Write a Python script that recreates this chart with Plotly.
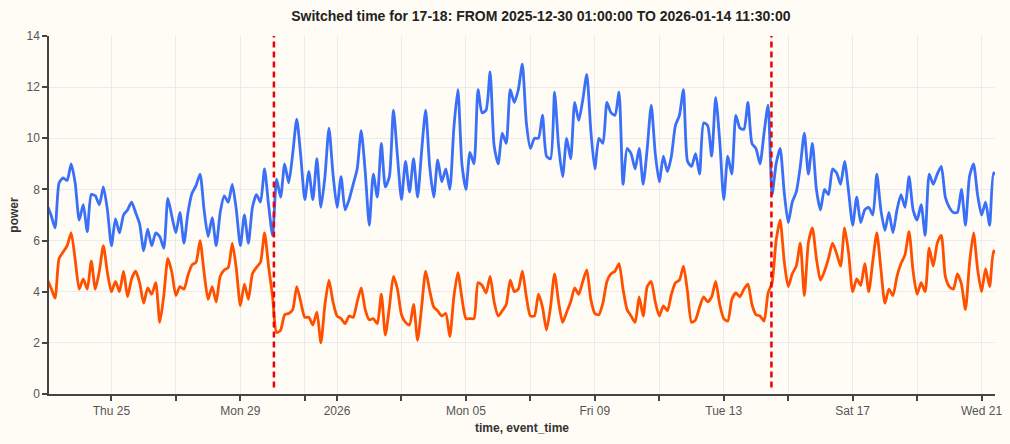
import pandas as pd
import plotly.graph_objects as go

# ---- data (3-hourly readings starting 2025-12-23 00:00) ----
start_time = "2025-12-23 00:00"
step = "3h"

series_blue = [
    7.4, 7.0, 6.5, 8.25, 8.45, 8.35, 9.0, 8.25, 6.8, 7.4, 6.35, 7.8, 7.75, 7.4, 8.1, 7.2,
    5.8, 6.85, 6.3, 7.0, 7.2, 7.5, 7.1, 6.65, 5.6, 6.45, 5.8, 6.3, 6.15, 5.7, 7.65, 6.95,
    6.3, 7.1, 5.9, 7.1, 7.85, 8.15, 8.6, 7.2, 6.15, 6.9, 5.8, 7.1, 7.75, 7.5, 8.2, 7.2,
    5.8, 7.0, 5.9, 7.3, 7.8, 7.5, 8.8, 7.4, 6.2, 8.4, 7.7, 9.0, 8.26, 9.4, 10.75, 9.3,
    7.6, 8.7, 7.6, 9.2, 7.3, 8.5, 10.4, 8.6, 7.3, 8.5, 7.2, 7.6, 8.2, 8.8, 10.3, 8.7,
    6.6, 8.6, 7.7, 9.8, 8.1, 8.5, 11.1, 9.3, 7.6, 9.1, 7.9, 9.2, 7.7, 9.5, 11.1, 8.9,
    7.7, 9.15, 8.3, 8.8, 8.0, 10.4, 11.9, 9.0, 8.0, 9.45, 9.0, 11.9, 11.0, 11.1, 12.6, 9.7,
    9.0, 10.2, 9.8, 11.9, 11.4, 11.9, 12.9, 10.6, 9.6, 10.0, 10.0, 10.9, 9.3, 9.2, 11.8, 9.7,
    8.5, 10.0, 9.2, 11.4, 10.7, 11.5, 12.5, 10.3, 8.8, 10.0, 9.8, 11.4, 11.0, 10.9, 11.8, 8.2,
    9.6, 9.4, 8.8, 9.6, 8.2, 9.6, 11.3, 9.4, 8.3, 9.3, 8.7, 9.3, 10.5, 10.9, 11.9, 9.1,
    8.9, 9.4, 8.6, 10.6, 10.5, 9.3, 11.6, 9.9, 7.6, 9.3, 8.6, 10.9, 10.4, 10.35, 11.4, 9.8,
    9.6, 9.0, 10.2, 11.3, 7.8, 9.0, 9.6, 7.9, 6.7, 7.5, 7.9, 8.9, 10.2, 8.6, 9.8, 8.0,
    7.2, 8.0, 7.8, 8.8, 8.65, 8.2, 9.1, 7.9, 6.6, 7.7, 6.7, 7.2, 7.3, 7.0, 8.6, 7.2,
    6.4, 7.1, 6.3, 7.2, 7.8, 7.3, 8.5, 7.2, 6.8, 7.4, 6.2, 8.6, 8.2, 8.6, 8.9, 7.7,
    7.3, 7.1, 7.1, 8.0, 6.6, 8.5, 9.0, 7.8, 7.0, 7.5, 6.6, 8.65, 8.5,
]

series_orange = [
    4.5, 4.15, 3.75, 5.3, 5.55, 5.8, 6.3, 5.25, 4.1, 4.5, 4.1, 5.2, 4.1, 4.8, 5.8, 4.75,
    4.0, 4.4, 4.0, 4.8, 3.8, 4.5, 4.8, 4.35, 3.55, 4.15, 3.9, 4.35, 2.8, 3.85, 5.3, 4.75,
    3.85, 4.2, 4.1, 4.65, 5.05, 5.15, 6.0, 4.75, 3.7, 4.2, 3.6, 4.6, 4.85, 4.95, 5.9, 4.9,
    3.45, 4.3, 3.7, 4.7, 4.95, 5.15, 6.3, 5.0, 3.8, 2.4, 2.5, 3.1, 3.15, 3.3, 4.2, 3.6,
    3.0, 3.0, 2.7, 3.2, 2.0, 3.5, 4.45, 3.6, 3.05, 2.95, 2.75, 3.05, 3.0, 3.6, 4.15, 3.3,
    2.9, 2.95, 2.75, 3.9, 2.3, 3.4, 4.6, 4.1, 3.1, 2.8, 2.7, 3.5, 2.1, 3.4, 4.8, 4.05,
    3.4, 3.25, 3.05, 3.15, 2.25, 3.8, 4.75, 3.75, 2.95, 2.95, 2.95, 4.35, 4.25, 3.95, 4.6, 3.6,
    3.05, 3.25, 3.5, 4.45, 4.0, 4.1, 4.8, 3.8, 3.05, 3.05, 3.9, 3.4, 2.5, 3.4, 4.7, 3.6,
    2.8, 3.2, 3.6, 4.15, 3.9, 4.4, 4.85, 3.7, 3.15, 3.1, 3.56, 4.4, 4.7, 4.8, 5.1, 4.1,
    3.3, 3.05, 2.8, 3.8, 3.05, 4.2, 4.4, 3.6, 3.05, 3.45, 3.25, 3.9, 4.35, 4.45, 5.0, 4.0,
    2.8, 2.9, 3.4, 3.8, 3.6, 3.8, 4.4, 3.5, 2.95, 2.85, 3.7, 3.95, 3.8, 4.1, 4.3, 3.5,
    3.1, 3.05, 2.85, 3.95, 4.35, 6.0, 6.8, 5.2, 4.2, 4.7, 5.0, 5.9, 3.85, 5.9, 6.5, 5.3,
    4.45, 4.8, 5.3, 5.9, 5.5, 5.0, 6.5, 5.5, 4.0, 4.5, 4.25, 5.1, 4.0, 5.2, 6.3, 4.9,
    3.55, 4.1, 3.85, 4.6, 5.1, 5.45, 6.35, 4.8, 3.9, 4.35, 4.0, 5.7, 5.0, 5.9, 6.2, 4.6,
    4.2, 4.1, 4.7, 4.3, 3.3, 5.1, 6.3, 4.9, 4.0, 4.9, 4.2, 5.6, 5.4,
]

switch_times = ["2025-12-30 01:00:00", "2026-01-14 11:30:00"]

tick_dates = [
    "2025-12-25", "2025-12-27", "2025-12-29", "2025-12-31", "2026-01-01",
    "2026-01-03", "2026-01-05", "2026-01-07", "2026-01-09", "2026-01-11",
    "2026-01-13", "2026-01-15", "2026-01-17", "2026-01-19", "2026-01-21",
]
tick_labels = [
    "Thu 25", "", "Mon 29", "", "2026", "", "Mon 05", "", "Fri 09", "",
    "Tue 13", "", "Sat 17", "", "Wed 21",
]
y_ticks = [0, 2, 4, 6, 8, 10, 12, 14]

x_range = ["2025-12-23 01:30", "2026-01-21 10:00"]

times = pd.date_range(start=start_time, periods=len(series_blue), freq=step)

BG = "#fffcf5"
FONT = "Liberation Sans, Arial, sans-serif"

fig = go.Figure()
fig.add_trace(go.Scatter(x=times, y=series_blue, mode="lines",
                         line=dict(color="#3a6ff8", width=2.8, shape="spline", smoothing=0.6),
                         name="power 1"))
fig.add_trace(go.Scatter(x=times, y=series_orange, mode="lines",
                         line=dict(color="#ff5000", width=2.8, shape="spline", smoothing=0.6),
                         name="power 2"))

for t in switch_times:
    fig.add_shape(type="line", xref="x", yref="y", x0=t, x1=t, y0=0.25, y1=14,
                  line=dict(color="#ee0000", width=2.5, dash="6px,4px"), layer="above")

fig.update_layout(
    width=1010, height=444,
    margin=dict(l=49, r=8, t=36, b=50),
    paper_bgcolor=BG, plot_bgcolor=BG,
    showlegend=False,
    font=dict(family=FONT, size=12, color="#555555"),
    title=dict(
        text="<b>Switched time for 17-18: FROM 2025-12-30 01:00:00 TO 2026-01-14 11:30:00</b>",
        font=dict(family=FONT, size=14, color="#222222"),
        x=0.52, xanchor="center", xref="paper",
        y=1 - 16 / 444, yanchor="middle", yref="container",
    ),
    xaxis=dict(
        type="date", range=x_range,
        tickmode="array", tickvals=tick_dates, ticktext=tick_labels,
        showgrid=True, gridcolor="#ebebeb", gridwidth=1,
        showline=True, linecolor="#444444", linewidth=1.5,
        ticks="outside", ticklen=5, tickcolor="#444444", tickwidth=1.5,
        tickfont=dict(family=FONT, size=12, color="#555555"),
        title=dict(text="<b>time, event_time</b>", standoff=6,
                   font=dict(family=FONT, size=12, color="#333333")),
        zeroline=False,
    ),
    yaxis=dict(
        range=[0, 14], tickmode="array", tickvals=y_ticks,
        showgrid=True, gridcolor="#ebebeb", gridwidth=1,
        showline=True, linecolor="#444444", linewidth=1.5,
        ticks="outside", ticklen=5, tickcolor="#444444", tickwidth=1.5,
        tickfont=dict(family=FONT, size=12, color="#555555"),
        title=dict(text="<b>power</b>", standoff=5,
                   font=dict(family=FONT, size=12, color="#333333")),
        zeroline=False,
    ),
)

fig.write_html("out.html")
